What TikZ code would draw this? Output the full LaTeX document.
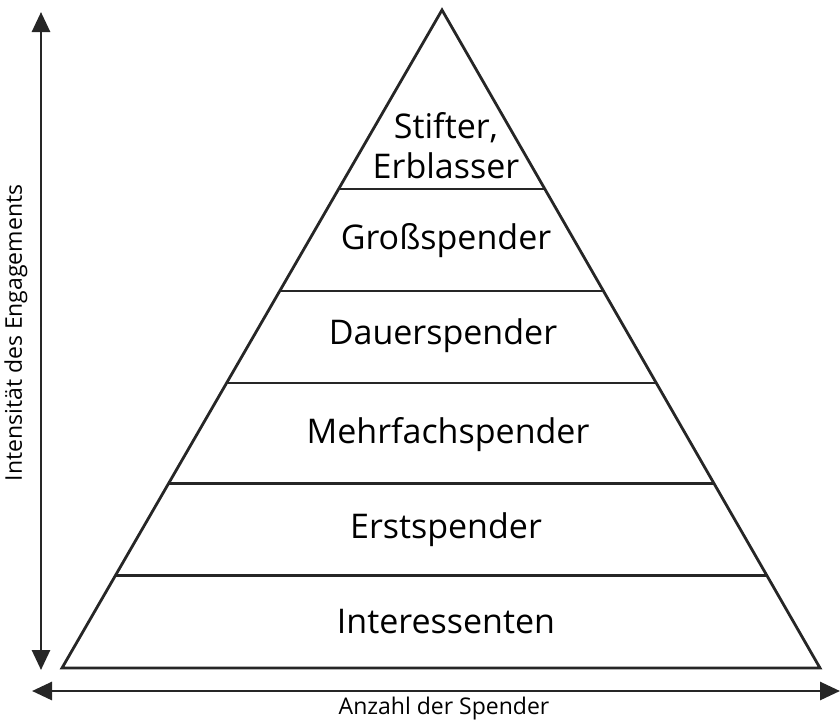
\documentclass[tikz,border=0pt]{standalone}
\usepackage{fontspec}
\setmainfont{Open Sans}
\usetikzlibrary{arrows.meta, calc, positioning}

\begin{document}
\begin{tikzpicture}[
        x=1pt, y=-1pt,
        % Styles
        layer/.style={
            draw=black!85,
            line width=2.8pt
          },
        level/.style={
            align=center,
            font=\fontsize{34}{40}\selectfont,
            inner sep=0pt
          },
        axis/.style={
            draw=black!85,
            line width=2.8pt,
            {Triangle[length=20pt,width=18pt]}-{Triangle[length=20pt,width=18pt]}
          },
        axislabel/.style={
            font=\fontsize{23}{27}\selectfont,
            inner sep=0pt
          }
      ]
      \useasboundingbox (0,0) rectangle (840,721);

      % Pyramid corners
      \coordinate (apex) at (442,10);
      \coordinate (baseL) at (62,668);
      \coordinate (baseR) at (820,668);

      % Pyramid outline
      \draw[layer, line join=miter] (apex) -- (baseL) -- (baseR) -- cycle;

      % Layer borders
      \draw[layer] ($(apex)!0.272!(baseL)$) -- ($(apex)!0.272!(baseR)$);
      \draw[layer] ($(apex)!0.427!(baseL)$) -- ($(apex)!0.427!(baseR)$);
      \draw[layer] ($(apex)!0.567!(baseL)$) -- ($(apex)!0.567!(baseR)$);
      \draw[layer] ($(apex)!0.719!(baseL)$) -- ($(apex)!0.719!(baseR)$);
      \draw[layer] ($(apex)!0.859!(baseL)$) -- ($(apex)!0.859!(baseR)$);

      % Layer labels
      \node[level] (stifter) at (446,146) {Stifter,\\Erblasser};
      \node[level] (gross) at (446,241) {Großspender};
      \node[level] (dauer) at (443,336) {Dauerspender};
      \node[level] (mehrfach) at (448,435) {Mehrfachspender};
      \node[level] (erst) at (446,530) {Erstspender};
      \node[level] (interessenten) at (446,622) {Interessenten};

      % Axes
      \coordinate (vtop) at (41,12);
      \coordinate (vbot) at (41,670);
      \coordinate (hleft) at (32,691);
      \coordinate (hright) at (840,691);
      \draw[axis] (vtop) -- (vbot);
      \draw[axis] (hleft) -- (hright);

      % Axis labels
      \node[axislabel, rotate=90] (intens) at (16,333) {Intensität des Engagements};
      \node[axislabel] (anzahl) at (444,709) {Anzahl der Spender};

    \end{tikzpicture}
\end{document}
